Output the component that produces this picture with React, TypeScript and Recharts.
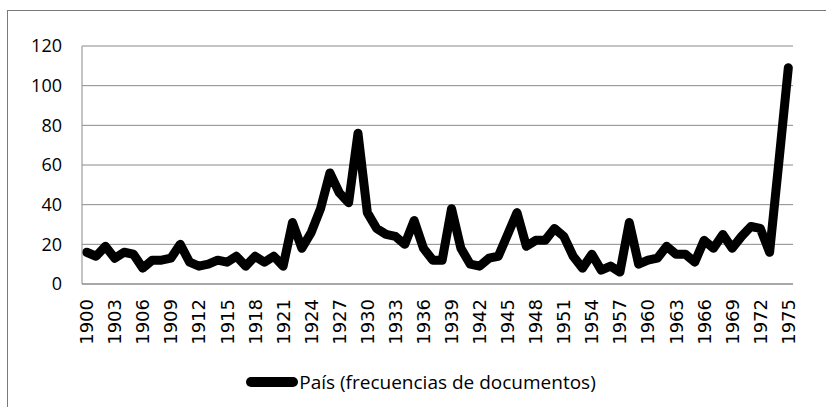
import React from 'react';
import { LineChart, Line, XAxis, YAxis, CartesianGrid, Legend } from 'recharts';

const years = [
  '1900', '1901', '1902', '1903', '1904', '1905', '1906', '1907', '1908', '1909',
  '1910', '1911', '1912', '1913', '1914', '1915', '1916', '1917', '1918', '1919',
  '1920', '1921', '1922', '1923', '1924', '1925', '1926', '1927', '1928', '1929',
  '1930', '1931', '1932', '1933', '1934', '1935', '1936', '1937', '1938', '1939',
  '1940', '1941', '1942', '1943', '1944', '1945', '1946', '1947', '1948', '1949',
  '1950', '1951', '1952', '1953', '1954', '1955', '1956', '1957', '1958', '1959',
  '1960', '1961', '1962', '1963', '1964', '1965', '1966', '1967', '1968', '1969',
  '1970', '1971', '1972', '1973', '1974', '1975',
];

const frecuencias = [
  16, 14, 19, 13, 16, 15, 8, 12, 12, 13,
  20, 11, 9, 10, 12, 11, 14, 9, 14, 11,
  14, 9, 31, 18, 26, 38, 56, 46, 41, 76,
  36, 28, 25, 24, 20, 32, 18, 12, 12, 38,
  18, 10, 9, 13, 14, 25, 36, 19, 22, 22,
  28, 24, 14, 8, 15, 7, 9, 6, 31, 10,
  12, 13, 19, 15, 15, 11, 22, 18, 25, 18,
  24, 29, 28, 16, 62, 109,
];

const yTicks = [0, 20, 40, 60, 80, 100, 120];
const seriesName = 'País (frecuencias de documentos)';

const data = years.map((year, i) => ({ year, value: frecuencias[i] }));

const FONT = '"Open Sans", sans-serif';
const GRID = '#8a8a8a';

// rotated year labels, reading bottom to top
const YearTick = (props: any) => {
  const { x, y, payload } = props;
  return (
    <text
      x={x}
      y={y}
      transform={`rotate(-90, ${x}, ${y})`}
      textAnchor="end"
      dominantBaseline="central"
      fontFamily='"DejaVu Sans", sans-serif'
      fontSize={18}
      fill="#000"
    >
      {payload.value}
    </text>
  );
};

const LegendContent = () => (
  <div style={{ display: 'flex', alignItems: 'center', justifyContent: 'center', fontFamily: FONT, fontSize: 19, color: '#000' }}>
    <svg width={52} height={14} style={{ marginRight: 1 }}>
      <line x1={5} y1={7} x2={47} y2={7} stroke="#000" strokeWidth={10} strokeLinecap="round" />
    </svg>
    <span>{seriesName}</span>
  </div>
);

export default function App() {
  return (
    <div style={{ position: 'absolute', left: 0, top: 0, width: 826, height: 407, overflow: 'hidden', background: '#fff' }}>
      <div
        style={{
          position: 'absolute', left: 7, top: 10, width: 819, height: 397,
          boxSizing: 'border-box', borderLeft: '1px solid #7a7a7a', borderTop: '1px solid #7a7a7a',
        }}
      />
      <div style={{ position: 'absolute', left: 0, top: 0 }}>
        <LineChart width={826} height={407} data={data} margin={{ top: 46, right: 33, left: 22, bottom: 0 }}>
          <CartesianGrid vertical={false} stroke={GRID} strokeWidth={1} />
          <XAxis
            dataKey="year"
            scale="band"
            interval={2}
            height={123}
            tickLine={false}
            tickSize={0}
            tickMargin={15}
            axisLine={{ stroke: GRID }}
            tick={<YearTick />}
          />
          <YAxis
            domain={[0, 120]}
            ticks={yTicks}
            width={60}
            tickLine={false}
            tickSize={0}
            tickMargin={20}
            axisLine={{ stroke: GRID }}
            tick={{ fontFamily: FONT, fontSize: 18, fill: '#000' }}
          />
          <Legend
            verticalAlign="middle"
            align="center"
            content={<LegendContent />}
            wrapperStyle={{ top: 369, left: 0, width: 842, height: 28 }}
          />
          <Line
            type="linear"
            dataKey="value"
            name={seriesName}
            stroke="#000"
            strokeWidth={9}
            strokeLinejoin="round"
            strokeLinecap="round"
            dot={false}
            isAnimationActive={false}
          />
        </LineChart>
      </div>
    </div>
  );
}
